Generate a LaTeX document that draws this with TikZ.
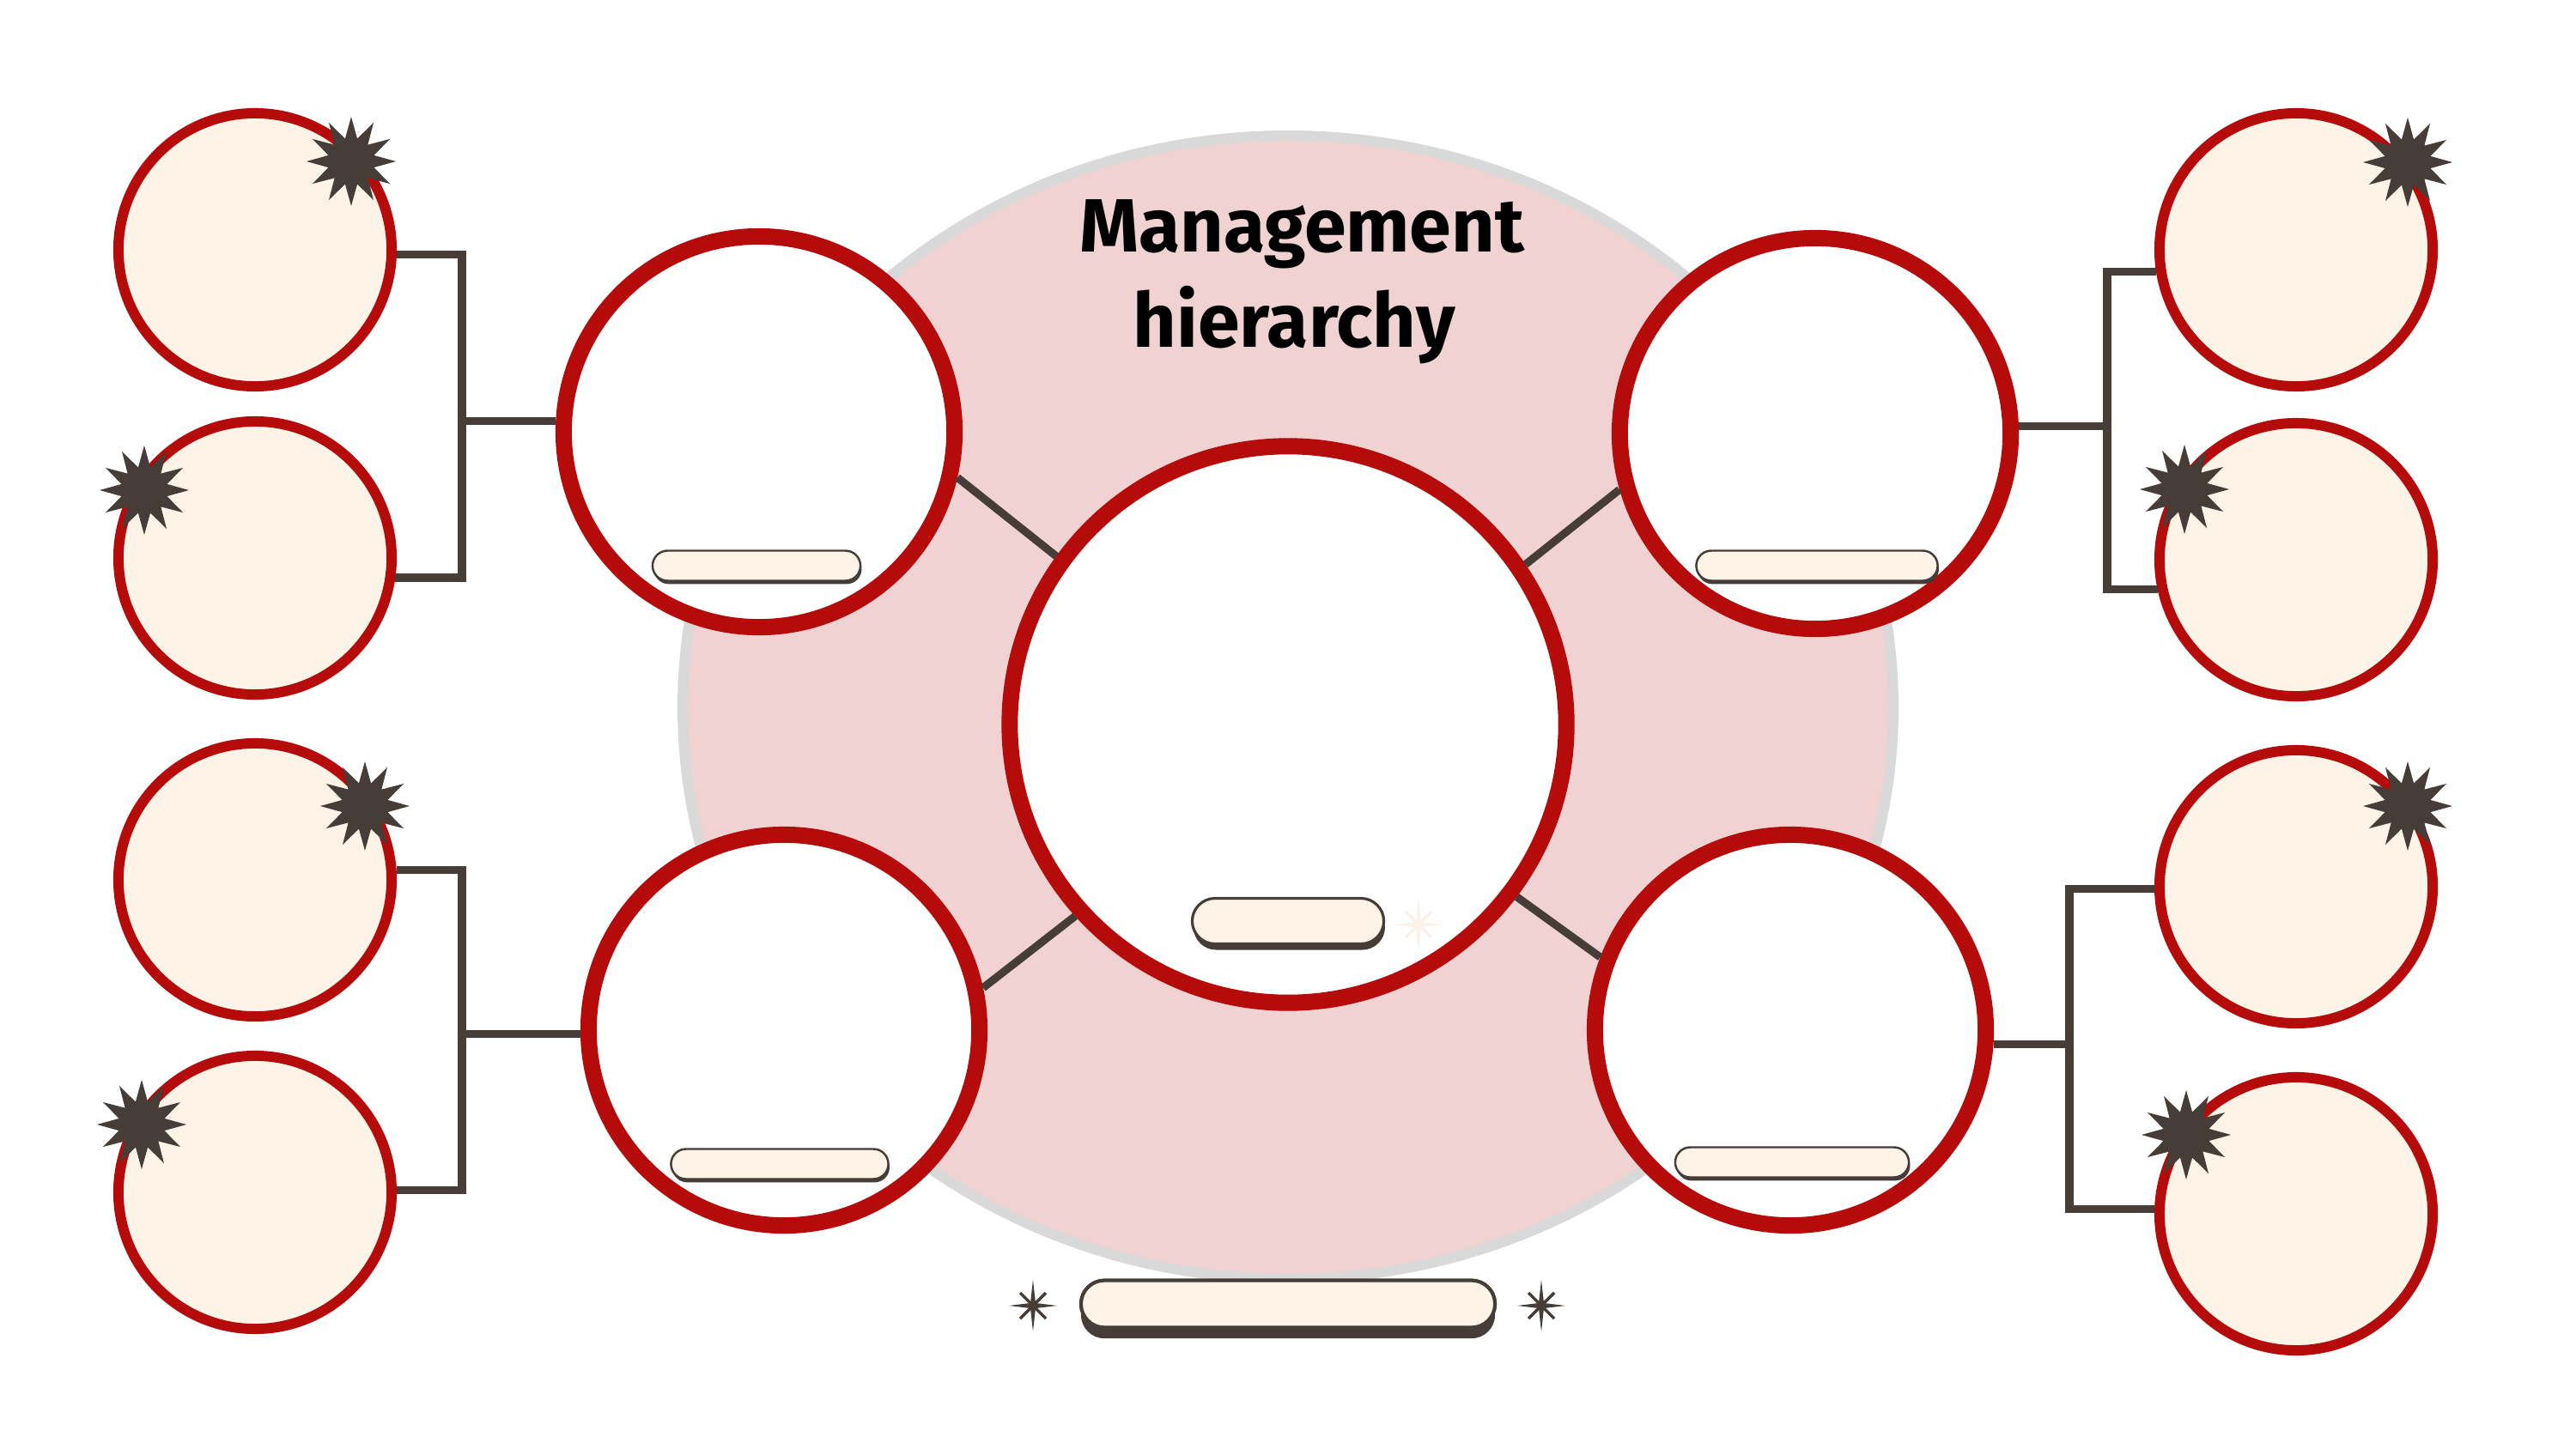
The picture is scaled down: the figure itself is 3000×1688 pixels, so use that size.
\documentclass[tikz,border=0pt]{standalone}
\usepackage{fontspec}
\newfontfamily\titlefont{Fira Sans}
\usetikzlibrary{shapes.geometric,shadows}
\definecolor{cred}{HTML}{B50B0B}
\definecolor{ccream}{HTML}{FDF3E7}
\definecolor{cpink}{HTML}{F0D2D3}
\definecolor{cgray}{HTML}{D9D9D9}
\definecolor{cdark}{HTML}{463C38}
\definecolor{cfaint}{HTML}{FCF1E8}
\tikzset{
  smallc/.style={circle, draw=cred, line width=3.4pt, fill=ccream, minimum size=3.18cm, inner sep=0pt},
  midc/.style={circle, draw=cred, line width=5.4pt, fill=white, minimum size=4.55cm, inner sep=0pt},
  centc/.style={circle, draw=cred, line width=5.4pt, fill=white, minimum size=6.48cm, inner sep=0pt},
  conn/.style={draw=cdark, line width=2.6pt},
  burst/.style={star, star points=12, star point ratio=1.9, fill=cdark, minimum size=1.04cm, inner sep=0pt},
  pill/.style={rectangle, draw=cdark, line width=0.7pt, fill=ccream, minimum height=0.35cm, rounded corners=0.175cm, inner sep=0pt,
    drop shadow={shadow xshift=0.4pt, shadow yshift=-1.1pt, fill=cdark, opacity=1}},
  bigpill/.style={rectangle, draw=cdark, line width=0.9pt, fill=ccream, minimum height=0.53cm, rounded corners=0.265cm, inner sep=0pt,
    drop shadow={shadow xshift=0.4pt, shadow yshift=-2pt, fill=cdark, opacity=1}},
  botpill/.style={rectangle, draw=cdark, line width=1.2pt, fill=ccream, minimum height=0.55cm, rounded corners=0.275cm, inner sep=0pt,
    drop shadow={shadow xshift=0pt, shadow yshift=-3.6pt, fill=cdark, opacity=1}},
  ttl/.style={font=\titlefont\bfseries\fontsize{25}{30}\selectfont, text=black, inner sep=0pt, anchor=base},
}
\newcommand{\mysparkle}[2]{%
  \begin{scope}[shift={(#1)}]
    \fill[#2] (0,30) -- (3,3) -- (28,0) -- (3,-3) -- (0,-30) -- (-3,-3) -- (-28,0) -- (-3,3) -- cycle;
    \draw[#2, line width=1pt] (-15,-15) -- (15,15) (-15,15) -- (15,-15);
  \end{scope}}
\begin{document}
\begin{tikzpicture}[x=0.01cm, y=-0.01cm]
\useasboundingbox (0,0) rectangle (3000,1688);
\fill[white] (0,0) rectangle (3000,1688);

% big pink backdrop
\filldraw[fill=cpink, draw=cgray, line width=3.4pt] (1500,824) ellipse [x radius=705, y radius=666];

% circles
\node[centc] (C) at (1500,844) {};
\node[midc] (M1) at (884,503) {};
\node[midc] (M2) at (2114,505) {};
\node[midc] (M3) at (913,1200) {};
\node[midc] (M4) at (2085,1200) {};

\node[smallc] (L1) at (297,291) {};
\node[smallc] (L2) at (297,650) {};
\node[smallc] (L3) at (297,1025) {};
\node[smallc] (L4) at (297,1389) {};
\node[smallc] (R1) at (2674,291) {};
\node[smallc] (R2) at (2674,652) {};
\node[smallc] (R3) at (2674,1033) {};
\node[smallc] (R4) at (2674,1414) {};

% connectors centre to middle circles
\draw[conn] (M1.-13) -- (C.144);
\draw[conn] (M2.196) -- (C.34);
\draw[conn] (M3.12) -- (C.222);
\draw[conn] (M4.159) -- (C.-37);

% brackets
\coordinate (xL) at (538,0);
\coordinate (xRa) at (2454,0);
\coordinate (xRb) at (2410,0);
\draw[conn, line join=miter] (L1.-2) -- (L1.-2 -| xL) -- (L2.-8 -| xL) -- (L2.-8);
\draw[conn] (M1.177) -- (M1.177 -| xL);
\draw[conn, line join=miter] (L3.4) -- (L3.4 -| xL) -- (L4.1 -| xL) -- (L4.1);
\draw[conn] (M3.181) -- (M3.181 -| xL);
\draw[conn, line join=miter] (R1.189) -- (R1.189 -| xRa) -- (R2.192 -| xRa) -- (R2.192);
\draw[conn] (M2.2) -- (M2.2 -| xRa);
\draw[conn, line join=miter] (R3.181) -- (R3.181 -| xRb) -- (R4.178 -| xRb) -- (R4.178);
\draw[conn] (M4.-4) -- (M4.-4 -| xRb);

% starbursts
\node[burst] (sL1) at (409,188) {};
\node[burst] (sL2) at (168,571) {};
\node[burst] (sL3) at (425,939) {};
\node[burst] (sL4) at (165,1310) {};
\node[burst] (sR1) at (2804,189) {};
\node[burst] (sR2) at (2544,570) {};
\node[burst] (sR3) at (2804,939) {};
\node[burst] (sR4) at (2546,1322) {};

% pills
\node[pill, minimum width=2.42cm] (p1) at (881,659) {};
\node[pill, minimum width=2.81cm] (p2) at (2116,659) {};
\node[pill, minimum width=2.53cm] (p3) at (908,1356) {};
\node[pill, minimum width=2.72cm] (p4) at (2087,1354) {};
\node[bigpill, minimum width=2.23cm] (pc) at (1500,1073) {};
\node[botpill, minimum width=4.82cm] (pb) at (1500,1519) {};

% sparkles
\mysparkle{1203,1521}{cdark}
\mysparkle{1795,1521}{cdark}
\mysparkle{1652,1077}{cfaint}

% title
\node[ttl] (t1) at (1516,293) {Management};
\node[ttl] (t2) at (1507,404) {hierarchy};
\end{tikzpicture}
\end{document}
